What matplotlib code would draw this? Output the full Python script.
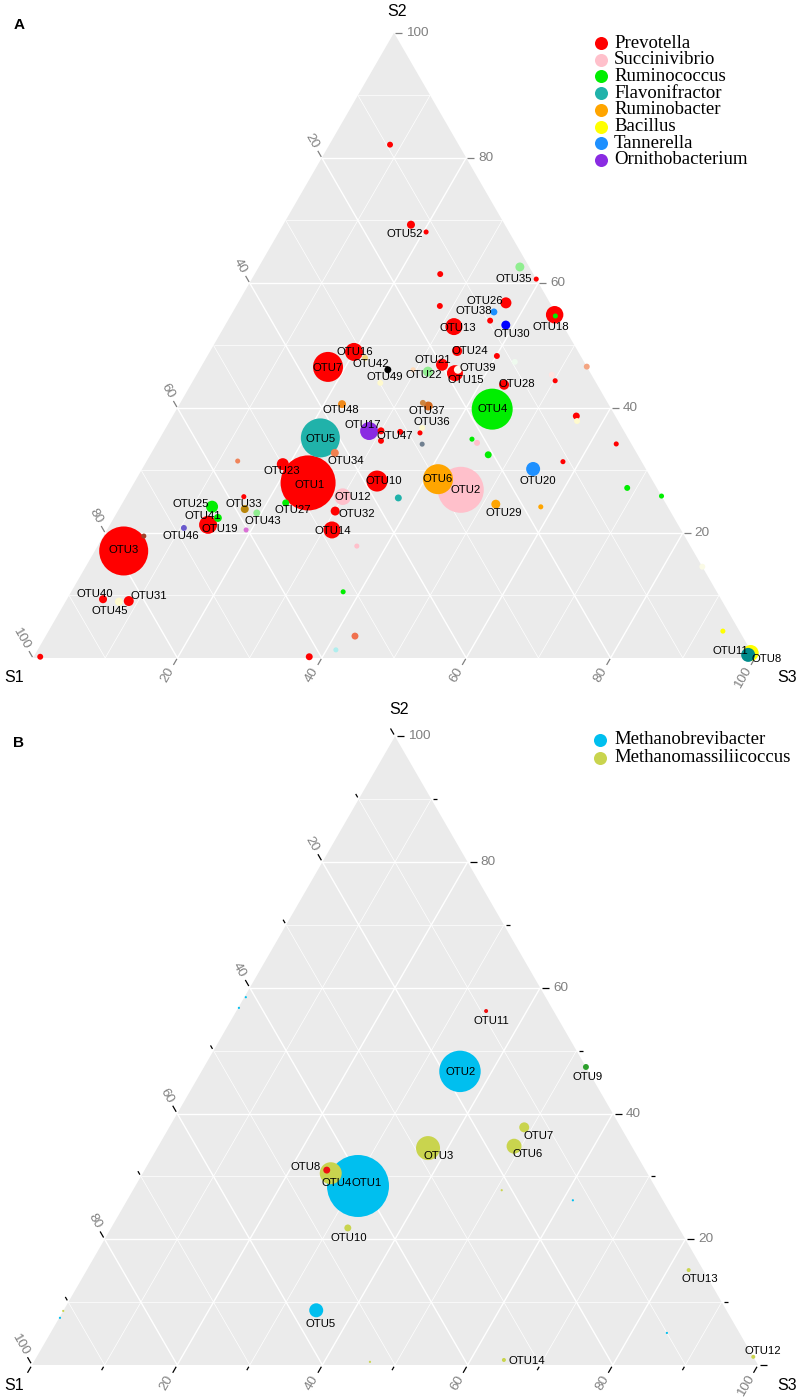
import numpy as np
import matplotlib
matplotlib.use("Agg")
import matplotlib.pyplot as plt
from matplotlib.patches import Polygon

plt.rcParams['font.family'] = ['Liberation Sans', 'DejaVu Sans']

# ======================= DATA: panel A (bacteria) =======================
a_names = ["OTU1", "OTU2", "OTU3", "OTU4", "OTU5", "OTU6", "OTU7", "OTU8", "OTU10", "OTU11",
           "OTU12", "OTU13", "OTU14", "OTU15", "OTU16", "OTU17", "OTU18", "OTU19", "OTU20", "OTU21",
           "OTU22", "OTU23", "OTU24", "OTU25", "OTU26", "OTU27", "OTU28", "OTU29", "OTU30", "OTU31",
           "OTU32", "OTU33", "OTU34", "OTU35", "OTU36", "OTU37", "OTU38", "OTU39", "OTU40", "OTU41",
           "OTU42", "OTU43", "OTU45", "OTU46", "OTU47", "OTU48", "OTU49", "OTU52",
           "", "", "", "", "", "", "", "", "", "",
           "", "", "", "", "", "", "", "", "", "",
           "", "", "", "", "", "", "", "", "", "",
           "", "", "", "", "", "", "", "", "", "",
           "", ""]
a_genus = ["Prevotella", "Succinivibrio", "Prevotella", "Ruminococcus", "Flavonifractor",
           "Ruminobacter", "Prevotella", "Bacillus", "Prevotella", "Other darkcyan",
           "Succinivibrio", "Prevotella", "Prevotella", "Prevotella", "Prevotella",
           "Ornithobacterium", "Prevotella", "Prevotella", "Tannerella", "Prevotella",
           "Other lightgreen", "Prevotella", "Prevotella", "Ruminococcus", "Prevotella",
           "Ruminococcus", "Prevotella", "Ruminobacter", "Other blue", "Prevotella",
           "Prevotella", "Other goldenrod", "Other coral", "Other lightgreen", "Other cream",
           "Other chocolate", "Tannerella", "Other white", "Prevotella", "Ruminococcus",
           "Other khaki", "Other lightgreen", "Other cream", "Other slateblue", "Prevotella",
           "Other darkorange", "Other black", "Prevotella",
           "Prevotella", "Prevotella", "Prevotella", "Prevotella", "Prevotella",
           "Prevotella", "Prevotella", "Other honeydew", "Other salmon", "Other mistyrose",
           "Prevotella", "Prevotella", "Other cream", "Prevotella", "Prevotella",
           "Ruminococcus", "Succinivibrio", "Ruminococcus", "Ruminococcus", "Ruminococcus",
           "Ruminobacter", "Other ivory", "Bacillus", "Prevotella", "Prevotella",
           "Prevotella", "Other slategray", "Other coral2", "Flavonifractor", "Prevotella",
           "Other orchid", "Other brown", "Succinivibrio", "Ruminococcus", "Other tomato",
           "Other paleturquoise", "Prevotella", "Prevotella", "Other peru", "Other cream",
           "Other peach", "Ruminococcus"]
a_s1 = [47.9, 27.3, 78.8, 16.5, 42.6, 29.6, 35.9, 0.2, 38.2, 0.7,
        44.2, 15.2, 48.4, 18.8, 31.1, 35.3, 0.3, 65.1, 15.6, 19.9,
        22.4, 49.9, 16.7, 63.1, 6.1, 52.6, 12.9, 23.6, 7.9, 82.1,
        46.4, 58.7, 41.8, 1.3, 27.7, 25.1, 8.5, 18.1, 85.6, 63.2,
        30.0, 57.4, 83.6, 68.7, 31.1, 36.9, 27.8, 13.0,
        9.5, 11.5, 12.9, 0.0, 15.5, 9.7, 11.6, 9.6, 0.0, 5.5,
        5.5, 5.4, 5.7, 2.1, 10.9, 21.7, 21.3, 20.7, 4.1, 0.0,
        17.6, 0.0, 2.3, 33.6, 34.4, 28.4, 29.0, 55.9, 36.6, 57.9,
        60.3, 74.9, 46.2, 51.8, 53.6, 57.4, 61.7, 98.9, 25.6, 29.9,
        24.3, 0.3]
a_s2 = [28.0, 26.9, 17.1, 39.8, 35.2, 28.6, 46.6, 0.8, 28.3, 0.5,
        25.8, 53.0, 20.5, 45.6, 49.0, 36.3, 54.9, 21.3, 30.2, 46.9,
        45.8, 31.0, 49.1, 24.2, 56.8, 24.8, 43.7, 24.6, 53.3, 9.1,
        23.5, 23.8, 32.8, 62.6, 36.8, 40.3, 55.4, 46.1, 9.4, 22.4,
        48.0, 23.2, 9.0, 20.8, 36.2, 40.6, 46.1, 69.3,
        82.1, 68.2, 61.4, 60.6, 56.3, 53.9, 48.3, 47.4, 46.6, 45.3,
        44.3, 38.7, 37.9, 34.2, 31.4, 35.0, 34.4, 32.5, 27.2, 25.9,
        24.2, 14.6, 4.3, 36.3, 34.7, 36.0, 34.2, 31.5, 25.6, 25.8,
        20.5, 19.5, 17.9, 10.6, 3.5, 1.3, 0.2, 0.2, 40.8, 44.0,
        46.1, 54.7]
a_s3 = [24.1, 45.8, 4.0, 43.7, 22.2, 41.8, 17.6, 99.0, 33.5, 98.8,
        30.0, 31.8, 31.2, 35.7, 20.0, 28.4, 44.8, 13.6, 54.1, 33.2,
        31.8, 19.1, 34.2, 12.7, 37.1, 22.6, 43.4, 51.8, 38.9, 8.7,
        30.1, 17.4, 25.4, 36.2, 35.5, 34.6, 36.2, 35.8, 5.0, 14.4,
        22.0, 19.4, 7.4, 10.5, 32.8, 22.5, 26.1, 17.7,
        8.4, 20.4, 25.7, 39.4, 28.2, 36.3, 40.1, 43.1, 53.4, 49.2,
        50.1, 55.9, 56.4, 63.6, 57.7, 43.3, 44.3, 46.8, 68.7, 74.1,
        58.3, 85.4, 93.4, 30.0, 30.8, 35.6, 36.8, 12.6, 37.8, 16.3,
        19.3, 5.6, 35.9, 37.7, 42.8, 41.3, 38.2, 0.9, 33.6, 26.1,
        29.6, 45.0]
a_abund = [94.5, 66.1, 75.0, 52.5, 47.5, 28.1, 28.1, 8.0, 13.8, 6.1,
           8.6, 9.0, 9.0, 8.0, 10.1, 10.1, 9.5, 10.1, 6.1, 4.5,
           3.1, 4.5, 3.1, 4.5, 3.8, 1.5, 3.1, 2.5, 2.5, 3.1,
           2.5, 2.0, 2.0, 2.5, 1.1, 2.5, 1.5, 2.0, 2.0, 2.0,
           1.1, 1.5, 2.0, 1.1, 1.1, 2.0, 1.5, 2.0,
           1.1, 0.8, 1.1, 0.8, 1.1, 1.1, 1.1, 1.1, 1.1, 1.1,
           0.8, 1.5, 1.1, 0.8, 0.8, 0.8, 1.1, 1.5, 1.1, 0.8,
           0.8, 1.1, 0.8, 1.5, 1.1, 0.8, 0.8, 0.8, 1.5, 0.8,
           0.8, 0.8, 0.8, 0.8, 1.5, 0.8, 1.5, 1.1, 1.1, 1.1,
           0.8, 0.8]
a_legend = ["Prevotella", "Succinivibrio", "Ruminococcus", "Flavonifractor",
            "Ruminobacter", "Bacillus", "Tannerella", "Ornithobacterium"]

# ======================= DATA: panel B (archaea) =======================
b_names = ["OTU1", "OTU2", "OTU3", "OTU4", "OTU5", "OTU6", "OTU7", "OTU8", "OTU9", "OTU10",
           "OTU11", "OTU12", "OTU13", "OTU14", "", "", "", "", "", "", "", ""]
b_genus = ["Methanobrevibacter", "Methanobrevibacter", "Methanomassiliicoccus",
           "Methanomassiliicoccus", "Methanobrevibacter", "Methanomassiliicoccus",
           "Methanomassiliicoccus", "Other red", "Other green", "Methanomassiliicoccus",
           "Other red", "Methanomassiliicoccus", "Methanomassiliicoccus", "Methanomassiliicoccus",
           "Methanomassiliicoccus", "Methanobrevibacter", "Methanobrevibacter",
           "Methanomassiliicoccus", "Methanobrevibacter", "Methanobrevibacter",
           "Methanobrevibacter", "Methanomassiliicoccus"]
b_s1 = [40.9, 17.7, 28.2, 43.6, 56.5, 16.2, 13.3, 43.9, 0.0, 45.6, 9.3, 0.0, 2.0, 34.6,
        53.2, 12.4, 10.0, 21.4, 41.3, 43.1, 92.4, 91.4]
b_s2 = [28.5, 46.7, 34.5, 30.5, 8.7, 34.8, 37.8, 31.0, 47.4, 21.8, 56.3, 1.3, 15.1, 0.8,
        0.5, 26.2, 5.1, 27.8, 58.5, 56.8, 7.5, 8.6]
b_s3 = [30.7, 35.6, 37.3, 25.9, 34.8, 49.0, 48.9, 25.1, 52.6, 32.6, 34.4, 98.7, 82.9, 64.6,
        46.3, 61.4, 84.9, 50.8, 0.2, 0.1, 0.1, 0.0]
b_abund = [120.0, 53.6, 18.0, 15.1, 6.1, 7.0, 3.1, 1.5, 1.1, 1.5, 0.5, 0.5, 0.5, 0.5,
           0.15, 0.15, 0.15, 0.15, 0.15, 0.15, 0.15, 0.15]
b_legend = ["Methanobrevibacter", "Methanomassiliicoccus"]

tick_values = [0, 10, 20, 30, 40, 50, 60, 70, 80, 90, 100]
tick_label_values = [20, 40, 60, 80, 100]

# ======================= STYLE =======================
palette = {
    "Prevotella": "#FF0000", "Succinivibrio": "#FFC0CB", "Ruminococcus": "#00EE00",
    "Flavonifractor": "#20B2AA", "Ruminobacter": "#FFA500", "Bacillus": "#FFFF00",
    "Tannerella": "#1E90FF", "Ornithobacterium": "#8A2BE2",
    "Other darkcyan": "#008B8B", "Other lightgreen": "#90EE90", "Other blue": "#0000FF",
    "Other goldenrod": "#B8860B", "Other coral": "#F08050", "Other cream": "#FFFACD",
    "Other chocolate": "#D2691E", "Other white": "#FFFAF0", "Other khaki": "#EED67A",
    "Other slateblue": "#6A5ACD", "Other darkorange": "#F08A1A", "Other black": "#000000",
    "Other honeydew": "#EEFAEE", "Other salmon": "#F4A582", "Other mistyrose": "#FFE4E1",
    "Other ivory": "#FAFAE6", "Other slategray": "#708090", "Other coral2": "#F0845A",
    "Other orchid": "#DA70D6", "Other brown": "#A0402A", "Other tomato": "#F0704E",
    "Other paleturquoise": "#AFEEEE", "Other peru": "#CD853F", "Other peach": "#FFDAB9",
    "Methanobrevibacter": "#00BFEF", "Methanomassiliicoccus": "#C9D44E",
    "Other red": "#EE1111", "Other green": "#2CA02C",
}
SIZE_K = 16.6          # marker area (pt^2) per abundance unit
LABEL_FS = 8.2
TICK_GRAY = "#808080"

# label offsets (pixels, x right / y down) relative to the point
a_label_off = {
    "OTU1": (2, 2), "OTU2": (5, 0), "OTU3": (0, -1), "OTU4": (0, 0), "OTU5": (0, 1),
    "OTU6": (0, 0), "OTU7": (0, 1), "OTU8": (16, 6), "OTU10": (7, 0), "OTU11": (-18, -4),
    "OTU12": (10, 0), "OTU13": (4, 1), "OTU14": (1, 1), "OTU15": (11, 7), "OTU16": (1, 0),
    "OTU17": (-6, -6), "OTU18": (-4, 12), "OTU19": (12, 4), "OTU20": (5, 12),
    "OTU21": (-9, -5), "OTU22": (-4, 3), "OTU23": (-1, 7), "OTU24": (13, 0),
    "OTU25": (-21, -3), "OTU26": (-21, -2), "OTU27": (7, 7), "OTU28": (13, -1),
    "OTU29": (8, 9), "OTU30": (6, 9), "OTU31": (20, -5), "OTU32": (22, 3), "OTU33": (-1, -5),
    "OTU34": (11, 8), "OTU35": (-6, 12), "OTU36": (10, -6), "OTU37": (-1, 5),
    "OTU38": (-20, -1), "OTU39": (20, -2), "OTU40": (-8, -5), "OTU41": (-15, -2),
    "OTU42": (6, 6), "OTU43": (6, 8), "OTU45": (-9, 9), "OTU46": (-3, 8), "OTU47": (-5, 4),
    "OTU48": (-1, 6), "OTU49": (-3, 7), "OTU52": (-6, 9),
}
b_label_off = {
    "OTU1": (9, -3), "OTU2": (1, 1), "OTU3": (11, 8), "OTU4": (6, 10), "OTU5": (4, 14),
    "OTU6": (14, 8), "OTU7": (14, 9), "OTU8": (-21, -3), "OTU9": (2, 10), "OTU10": (1, 10),
    "OTU11": (5, 10), "OTU12": (10, -6), "OTU13": (11, 9), "OTU14": (23, 1),
}

W, H = 800, 1398
SQ = np.sqrt(3) / 2
fig = plt.figure(figsize=(W / 100, H / 100), dpi=100)


def tern_xy(s1, s2, s3):
    s1, s2, s3 = (np.asarray(v, dtype=float) for v in (s1, s2, s3))
    tot = s1 + s2 + s3
    return (s3 + 0.5 * s2) / tot, SQ * s2 / tot


def make_panel(top_px, bot_px, x0, y0, scale):
    ax = fig.add_axes([0, 1 - bot_px / H, 1, (bot_px - top_px) / H])
    ax.set_xlim(-x0 / scale, (W - x0) / scale)
    ax.set_ylim((y0 - bot_px) / scale, (y0 - top_px) / scale)
    ax.axis('off')
    return ax


def draw_frame(ax, scale, tick_color, minor_ticks):
    px = 1.0 / scale
    ax.add_patch(Polygon([[0, 0], [1, 0], [0.5, SQ]], closed=True,
                         fc='#EBEBEB', ec='none', zorder=0))
    for k in range(10, 100, 10):
        lw = 1.0 if k % 20 == 0 else 0.5
        for p, q in [((k, 100 - k, 0), (k, 0, 100 - k)),
                     ((0, k, 100 - k), (100 - k, k, 0)),
                     ((100 - k, 0, k), (0, 100 - k, k))]:
            x, y = tern_xy(*zip(p, q))
            ax.plot(x, y, color='white', lw=lw, zorder=1, solid_capstyle='butt')
    # axes: (base composition function, outward direction, label rotation, ha)
    specs = [
        (lambda k: (k, 100 - k, 0), (-0.5, SQ), -60, 'right'),   # S1 (left edge)
        (lambda k: (0, k, 100 - k), (1.0, 0.0), 0, 'left'),      # S2 (right edge)
        (lambda k: (100 - k, 0, k), (-0.5, -SQ), 60, 'right'),   # S3 (bottom edge)
    ]
    for base, (dx, dy), rot, ha in specs:
        for k in tick_values:
            major = k % 20 == 0
            if not minor_ticks and (k == 0 or not major):
                continue
            bx, by = tern_xy(*base(k))
            if minor_ticks:
                l0, l1 = (2, 9) if major else (2, 6)
            else:
                l0, l1 = (1, 8)
            ax.plot([bx + dx * l0 * px, bx + dx * l1 * px],
                    [by + dy * l0 * px, by + dy * l1 * px],
                    color=tick_color, lw=0.9, zorder=2, solid_capstyle='butt')
            if k in tick_label_values:
                d = 12 * px if not minor_ticks else 13 * px
                ax.text(bx + dx * d, by + dy * d, str(k), rotation=rot,
                        rotation_mode='anchor', ha=ha, va='center',
                        color=TICK_GRAY, fontsize=9.7, zorder=3)


def draw_points(ax, names, genus, s1, s2, s3, abund, offsets):
    x, y = tern_xy(s1, s2, s3)
    order = np.argsort(-np.asarray(abund), kind='stable')
    cols = [palette[g] for g in genus]
    ax.scatter(x[order], y[order], s=np.asarray(abund)[order] * SIZE_K,
               c=[cols[i] for i in order], linewidths=0, zorder=4)
    for i, nm in enumerate(names):
        if nm:
            ox, oy = offsets.get(nm, (0, 0))
            ax.annotate(nm, xy=(x[i], y[i]), xytext=(ox * 0.72, -oy * 0.72),
                        textcoords='offset points', ha='center', va='center',
                        fontsize=LABEL_FS, color='black', zorder=6)


# ---------- panel A ----------
axA = make_panel(0, 700, 33, 658, 722)
draw_frame(axA, 722, TICK_GRAY, minor_ticks=False)
draw_points(axA, a_names, a_genus, a_s1, a_s2, a_s3, a_abund, a_label_off)

# ---------- panel B ----------
axB = make_panel(700, H, 32, 1365, 726)
draw_frame(axB, 726, 'black', minor_ticks=True)
draw_points(axB, b_names, b_genus, b_s1, b_s2, b_s3, b_abund, b_label_off)

# ---------- overlay: titles, panel letters, legends ----------
ov = fig.add_axes([0, 0, 1, 1], facecolor='none')
ov.set_xlim(0, W)
ov.set_ylim(H, 0)
ov.axis('off')

for (tx, ty, t) in [(397, 12, "S2"), (14, 678, "S1"), (787, 678, "S3"),
                    (399, 709, "S2"), (14, 1385, "S1"), (787, 1385, "S3")]:
    ov.text(tx, ty, t, ha='center', va='center', fontsize=11.5, color='black')
ov.text(19, 25, "A", ha='center', va='center', fontsize=11, fontweight='bold')
ov.text(18, 743, "B", ha='center', va='center', fontsize=11, fontweight='bold')

serif = ['Liberation Serif', 'DejaVu Serif']
for i, g in enumerate(a_legend):
    yy = 43 + i * 16.7
    ov.scatter([601], [yy], s=88, color=palette[g], linewidths=0)
    ov.text(614, yy, g, ha='left', va='center', fontsize=13.5, family=serif)
for i, g in enumerate(b_legend):
    yy = 740 + i * 17.5
    ov.scatter([600], [yy], s=88, color=palette[g], linewidths=0)
    ov.text(614, yy, g, ha='left', va='center', fontsize=13.5, family=serif)

fig.savefig("out.png", dpi=100)
